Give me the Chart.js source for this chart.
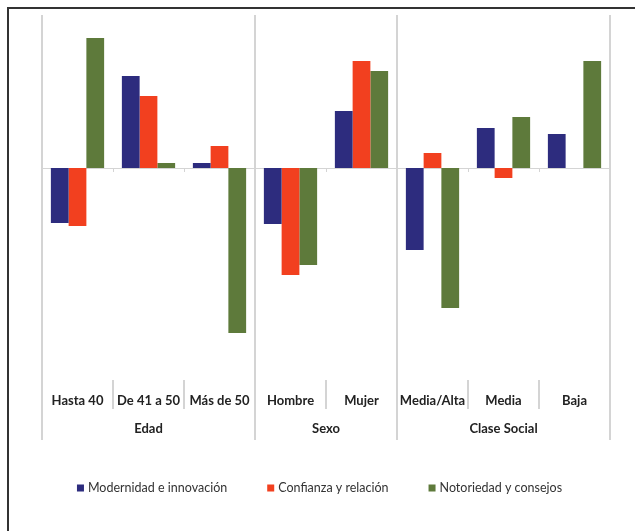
<!DOCTYPE html>
<html lang="es">
<head>
  <meta charset="UTF-8">
  <title>Atributos por segmento</title>
  <script src="https://cdn.jsdelivr.net/npm/chart.js"></script>
  <style>
    html, body { margin: 0; padding: 0; background: #fff; }
    #wrap { position: relative; width: 635px; height: 531px; }
  </style>
</head>
<body>
  <div id="wrap"><canvas id="chart"></canvas></div>

  <script>
    const categories = ["Hasta 40", "De 41 a 50", "Más de 50", "Hombre", "Mujer", "Media/Alta", "Media", "Baja"];
    const groupNames = ["Edad", "Sexo", "Clase Social"];
    const groupSizes = [3, 2, 3];

    const seriesNames = ["Modernidad e innovación", "Confianza y relación", "Notoriedad y consejos"];
    const seriesColors = ["#2d2c7e", "#f2401f", "#5e7a3b"];
    const modernidad = [-0.55, 0.92, 0.05, -0.56, 0.57, -0.82, 0.40, 0.34];
    const confianza  = [-0.58, 0.72, 0.22, -1.07, 1.07, 0.15, -0.10, 0];
    const notoriedad = [1.30, 0.05, -1.65, -0.97, 0.97, -1.40, 0.51, 1.07];

    const labelFont = "bold 13px Lato";
    const legendFont = "12.5px Lato";
    const lineColor = "#d4d4d4";

    // draws frame, separators, zero line, category / group labels and legend
    const decor = {
      id: "decor",
      beforeDatasetsDraw(chart) {
        const { ctx, chartArea } = chart;
        const y = chart.scales.y;
        const step = (chartArea.right - chartArea.left) / categories.length;
        const y0 = y.getPixelForValue(0);
        ctx.save();
        // zero axis
        ctx.strokeStyle = lineColor;
        ctx.lineWidth = 1;
        ctx.beginPath();
        ctx.moveTo(chartArea.left, y0 + 0.5);
        ctx.lineTo(chartArea.right, y0 + 0.5);
        for (let i = 0; i <= categories.length; i++) {
          const bx = Math.round(chartArea.left + i * step) + 0.5;
          ctx.moveTo(bx, y0);
          ctx.lineTo(bx, y0 + 4);
        }
        ctx.stroke();

        // separators
        ctx.lineWidth = 2;
        let idx = 0;
        const bounds = [0];
        groupSizes.forEach(n => { idx += n; bounds.push(idx); });
        ctx.beginPath();
        for (let i = 0; i <= categories.length; i++) {
          const bx = Math.round(chartArea.left + i * step);
          if (bounds.includes(i)) {
            ctx.moveTo(bx, chartArea.top);
            ctx.lineTo(bx, chartArea.bottom + 60);
          } else {
            ctx.moveTo(bx, chartArea.bottom);
            ctx.lineTo(bx, chartArea.bottom + 29);
          }
        }
        ctx.stroke();
        ctx.restore();
      },
      afterDraw(chart) {
        const { ctx, chartArea } = chart;
        const x = chart.scales.x;
        const step = (chartArea.right - chartArea.left) / categories.length;
        ctx.save();
        // frame (only left / top inside the picture)
        ctx.strokeStyle = "#333";
        ctx.lineWidth = 2;
        ctx.beginPath();
        ctx.moveTo(8, chart.height + 5);
        ctx.lineTo(8, 8);
        ctx.lineTo(chart.width + 5, 8);
        ctx.stroke();

        ctx.fillStyle = "#222";
        ctx.font = labelFont;
        ctx.textAlign = "center";
        ctx.textBaseline = "middle";
        categories.forEach((c, i) => {
          ctx.fillText(c, x.getPixelForValue(i), chartArea.bottom + 21);
        });
        let start = 0;
        groupNames.forEach((g, k) => {
          const cx = chartArea.left + (start + groupSizes[k] / 2) * step;
          ctx.fillText(g, cx, chartArea.bottom + 49);
          start += groupSizes[k];
        });

        // legend
        ctx.font = legendFont;
        ctx.textAlign = "left";
        const box = 7, gapBox = 4, gapItem = 40;
        const widths = seriesNames.map(n => box + gapBox + ctx.measureText(n).width);
        const total = widths.reduce((a, b) => a + b, 0) + gapItem * (seriesNames.length - 1);
        let lx = chart.width / 2 - total / 2 + 2;
        const ly = 488;
        seriesNames.forEach((n, i) => {
          ctx.fillStyle = seriesColors[i];
          ctx.fillRect(lx, ly - box / 2, box, box);
          ctx.fillStyle = "#333";
          ctx.fillText(n, lx + box + gapBox, ly);
          lx += widths[i] + gapItem;
        });
        ctx.restore();
      }
    };

    new Chart(document.getElementById("chart"), {
      type: "bar",
      data: {
        labels: categories,
        datasets: [
          { label: seriesNames[0], data: modernidad, backgroundColor: seriesColors[0] },
          { label: seriesNames[1], data: confianza, backgroundColor: seriesColors[1] },
          { label: seriesNames[2], data: notoriedad, backgroundColor: seriesColors[2] }
        ]
      },
      options: {
        responsive: true,
        maintainAspectRatio: false,
        animation: false,
        layout: { padding: { left: 42, top: 15, right: 25, bottom: 151 } },
        datasets: { bar: { categoryPercentage: 0.75, barPercentage: 1 } },
        plugins: { legend: { display: false }, tooltip: { enabled: false } },
        scales: {
          x: { display: false },
          y: { display: false, min: -2.12, max: 1.53 }
        }
      },
      plugins: [decor]
    });
  </script>
</body>
</html>
